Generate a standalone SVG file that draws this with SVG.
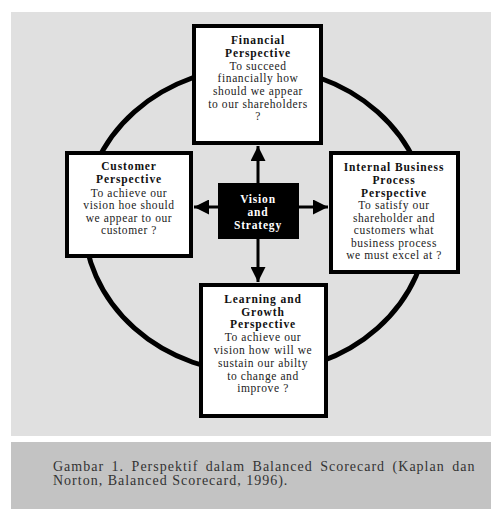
<svg xmlns="http://www.w3.org/2000/svg" width="491" height="509" viewBox="0 0 491 509">
<defs>
<style>
.box{fill:#fff;stroke:#000;stroke-width:4}
.t{font-family:"Liberation Serif","Times New Roman",serif;font-size:11.5px;letter-spacing:0.6px;fill:#222;text-anchor:middle}
.b{font-weight:bold;fill:#111;letter-spacing:0.9px}
.w{font-family:"Liberation Serif","Times New Roman",serif;font-size:11.5px;letter-spacing:0.8px;font-weight:bold;fill:#fff;text-anchor:middle}
.ln{stroke:#000;stroke-width:3;fill:none}
.cap{font-family:"Liberation Serif","Times New Roman",serif;font-size:14px;letter-spacing:1px;fill:#333}
</style>
<marker id="ah" viewBox="0 0 10 10" refX="10" refY="5" markerWidth="5" markerHeight="5" markerUnits="strokeWidth" orient="auto">
<path d="M0,0 L10,5 L0,10 z" fill="#000"/>
</marker>
</defs>
<rect x="0" y="0" width="491" height="509" fill="#fff"/>
<rect x="11" y="12" width="480" height="424" fill="#e0e0e0"/>
<rect x="11" y="442" width="480" height="67" fill="#c3c3c3"/>
<ellipse cx="256" cy="220" rx="172" ry="153" fill="none" stroke="#000" stroke-width="5"/>
<g id="connectors">
<line class="ln" x1="258" y1="183" x2="258" y2="146" marker-end="url(#ah)"/>
<line class="ln" x1="218" y1="207" x2="194" y2="207" marker-end="url(#ah)"/>
<line class="ln" x1="299" y1="207" x2="328" y2="207" marker-end="url(#ah)"/>
<line class="ln" x1="258" y1="239" x2="258" y2="282" marker-end="url(#ah)"/>
</g>
<g id="financial">
<rect class="box" x="194" y="26" width="127" height="117"/>
<text class="t b" x="258" y="44">Financial</text>
<text class="t b" x="258" y="57">Perspective</text>
<text class="t" x="258" y="70">To succeed</text>
<text class="t" x="258" y="82">financially how</text>
<text class="t" x="258" y="95">should we appear</text>
<text class="t" x="258" y="108">to our shareholders</text>
<text class="t" x="258" y="120">?</text>
</g>
<g id="customer">
<rect class="box" x="67" y="153" width="124" height="103"/>
<text class="t b" x="129" y="170">Customer</text>
<text class="t b" x="129" y="183">Perspective</text>
<text class="t" x="129" y="197">To achieve our</text>
<text class="t" x="129" y="209">vision hoe should</text>
<text class="t" x="129" y="222">we appear to our</text>
<text class="t" x="129" y="234">customer ?</text>
</g>
<g id="internal">
<rect class="box" x="331" y="153" width="127" height="119"/>
<text class="t b" x="394" y="171">Internal Business</text>
<text class="t b" x="394" y="184">Process</text>
<text class="t b" x="394" y="197">Perspective</text>
<text class="t" x="394" y="209">To satisfy our</text>
<text class="t" x="394" y="222">shareholder and</text>
<text class="t" x="394" y="234">customers what</text>
<text class="t" x="394" y="247">business process</text>
<text class="t" x="394" y="259">we must excel at ?</text>
</g>
<g id="vision">
<rect x="218" y="183" width="81" height="56" fill="#000"/>
<text class="w" x="258" y="203">Vision</text>
<text class="w" x="258" y="216">and</text>
<text class="w" x="258" y="229">Strategy</text>
</g>
<g id="learning">
<rect class="box" x="201" y="285" width="125" height="131"/>
<text class="t b" x="263" y="303">Learning and</text>
<text class="t b" x="263" y="316">Growth</text>
<text class="t b" x="263" y="328">Perspective</text>
<text class="t" x="263" y="341">To achieve our</text>
<text class="t" x="263" y="354">vision how will we</text>
<text class="t" x="263" y="367">sustain our abilty</text>
<text class="t" x="263" y="380">to change and</text>
<text class="t" x="263" y="392">improve ?</text>
</g>
<text class="cap" x="53" y="471" word-spacing="3">Gambar 1. Perspektif dalam Balanced Scorecard (Kaplan dan</text>
<text class="cap" x="53" y="485">Norton, Balanced Scorecard, 1996).</text>
</svg>
